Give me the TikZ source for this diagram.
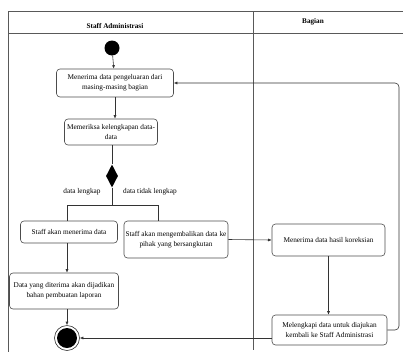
\documentclass[tikz,border=0pt]{standalone}
\usepackage{fontspec}
\setmainfont{Liberation Serif}
\usetikzlibrary{shapes.geometric,arrows.meta}
\begin{document}
\begin{tikzpicture}[x=1pt,y=-1pt,
  lane/.style={draw=black!65,line width=0.9pt},
  act/.style={draw=black!70,rounded corners=3.5pt,line width=0.6pt,
    align=center,inner sep=1pt,font=\fontsize{7.3}{9.6}\selectfont},
  flow/.style={draw=black!80,line width=0.6pt},
  arr/.style={flow,-{Latex[length=3.5pt,width=3pt]}},
  lbl/.style={font=\fontsize{7.3}{9}\selectfont,inner sep=0pt},
  head/.style={font=\fontsize{7.2}{9}\selectfont\bfseries,inner sep=0pt}]
\useasboundingbox (0,0) rectangle (403,356);

% swimlane frame
\draw[lane] (8,11) -- (403,11);
\draw[lane] (8,33) -- (403,33);
\draw[lane] (8,11) -- (8,352);
\draw[lane] (253,11) -- (253,350);
\node[head] (h1) at (115,26) {Staff Administrasi};
\node[head] (h2) at (313,22) {Bagian};

% activities
\node[circle,fill=black,minimum size=15pt,inner sep=0pt] (start) at (112,48) {};
\node[act,minimum width=117pt,minimum height=28pt] (a1) at (115,83)
  {Menerima data pengeluaran dari\\masing-masing bagian};
\node[act,minimum width=93pt,minimum height=26pt] (a2) at (111,132)
  {Memeriksa kelengkapan data-\\data};
\node[diamond,fill=black,minimum width=12pt,minimum height=23pt,inner sep=0pt] (dec) at (112,176) {};
\node[lbl] (l1) at (82,192) {data lengkap};
\node[lbl] (l2) at (150,192) {data tidak lengkap};
\node[act,minimum width=97pt,minimum height=22pt] (a3) at (69,232)
  {Staff akan menerima data};
\node[act,minimum width=104pt,minimum height=37pt] (a4) at (176,239.5)
  {Staff akan mengembalikan data ke\\pihak yang bersangkutan};
\node[act,minimum width=109pt,minimum height=36pt] (a5) at (64,291)
  {Data yang diterima akan dijadikan\\bahan pembuatan laporan};
\node[circle,draw=black!80,line width=0.6pt,fill=white,minimum size=25pt,inner sep=0pt] (end) at (67,338) {};
\node[circle,fill=black,minimum size=20pt,inner sep=0pt] (endin) at (end) {};
\node[act,minimum width=113pt,minimum height=32pt] (b1) at (328.5,240)
  {Menerima data hasil koreksian};
\node[act,minimum width=115pt,minimum height=30pt] (b2) at (329.5,330)
  {Melengkapi data untuk diajukan\\kembali ke Staff Administrasi};

% fork points and loop turn
\coordinate (fork) at (112,205);
\coordinate (forkL) at (67,205);
\coordinate (forkR) at (158,205);
\coordinate (loop) at (399,200);

% connectors
\draw[arr] (start) -- (a1);
\draw[arr] (a1) -- (a1 |- a2.north);
\draw[flow] (a2.south -| dec) -- (dec.north);
\draw[flow] (dec.south) -- (fork);
\draw[flow] (forkL) -- (forkR);
\draw[flow] (forkL) -- (forkL |- a3.north);
\draw[flow] (forkR) -- (forkR |- a4.north);
\draw[arr] (a3.south -| forkL) -- (a5.north -| forkL);
\draw[arr] (a5.south -| end) -- (end.north);
\draw[arr] (a4.east) -- (b1.west);
\draw[arr] (b1.south) -- (b1.south |- b2.north);
\draw[arr,rounded corners=4pt] (b2.east) -| (loop) |- (a1.east);
\draw[arr] (b2.west |- end) -- (end.east);
\end{tikzpicture}
\end{document}
